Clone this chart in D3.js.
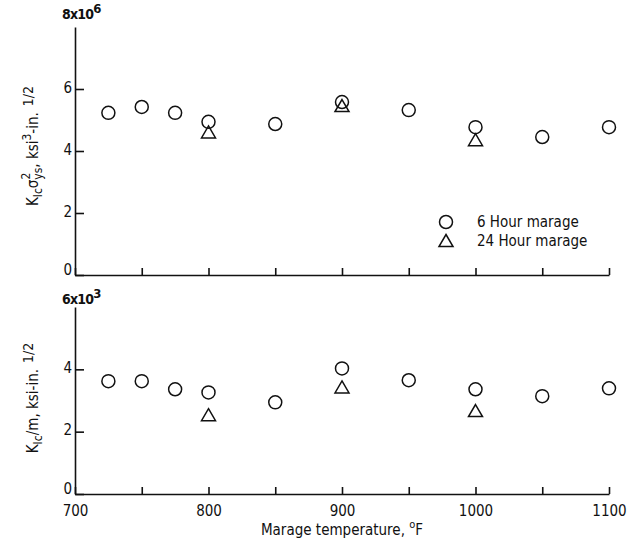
<!DOCTYPE html>
<html>
<head>
<meta charset="utf-8">
<script src="https://cdn.jsdelivr.net/npm/d3@7"></script>
<style>
  body { margin: 0; background: #fff; }
  svg text { font-family: "Liberation Sans Narrow", "DejaVu Sans Condensed", sans-serif; fill: #111; }
</style>
</head>
<body>
<svg id="chart" width="631" height="541"></svg>
<script>
// Marage temperatures, deg F
const temps6 = [725, 750, 775, 800, 850, 900, 950, 1000, 1050, 1100];
const temps24 = [800, 900, 1000];

// K_Ic * sigma_ys^2, units of 10^6
const topHour6 = [5.23, 5.42, 5.23, 4.94, 4.87, 5.58, 5.32, 4.77, 4.45, 4.77];
const topHour24 = [4.6, 5.45, 4.35];

// K_Ic / m, units of 10^3
const botHour6 = [3.62, 3.62, 3.36, 3.26, 2.94, 4.03, 3.65, 3.36, 3.14, 3.39];
const botHour24 = [2.53, 3.42, 2.66];

const xTicks = [700, 750, 800, 850, 900, 950, 1000, 1050, 1100];
const yTicksTop = [0, 2, 4, 6];
const yTicksBot = [0, 2, 4];

const svg = d3.select("#chart");
const ink = "#111";

const x = d3.scaleLinear().domain([700, 1100]).range([75, 609]);
const yTop = d3.scaleLinear().domain([0, 8]).range([275, 27]);
const yBot = d3.scaleLinear().domain([0, 6]).range([494, 307]);

function drawPanel(y, yTicks, hour6, hour24, showLabels) {
  const g = svg.append("g");

  const xAxis = d3.axisBottom(x)
      .tickValues(xTicks)
      .tickSizeInner(-7)
      .tickSizeOuter(0)
      .tickPadding(11)
      .tickFormat(d => showLabels && d % 100 === 0 ? d : "");
  g.append("g")
      .attr("transform", `translate(0,${y(0)})`)
      .call(xAxis);

  const yAxis = d3.axisLeft(y)
      .tickValues(yTicks)
      .tickSizeInner(-9)
      .tickSizeOuter(0)
      .tickPadding(3)
      .tickFormat(d3.format("d"));
  const ya = g.append("g")
      .attr("transform", `translate(${x(700)},0)`)
      .call(yAxis);
  ya.selectAll(".tick text").attr("dy", d => d === 0 ? "-0.05em" : "0.2em");

  g.selectAll(".domain, .tick line")
      .attr("stroke", ink)
      .attr("stroke-width", 1.6);
  g.selectAll(".tick text")
      .attr("font-size", 15)
      .attr("fill", ink);

  // 6 hour marage
  g.selectAll("circle.h6")
      .data(temps6.map((t, i) => [t, hour6[i]]))
      .join("circle")
        .attr("class", "h6")
        .attr("cx", d => x(d[0]))
        .attr("cy", d => y(d[1]))
        .attr("r", 6.5)
        .attr("fill", "none")
        .attr("stroke", ink)
        .attr("stroke-width", 1.5);

  // 24 hour marage
  g.selectAll("path.h24")
      .data(temps24.map((t, i) => [t, hour24[i]]))
      .join("path")
        .attr("class", "h24")
        .attr("transform", d => `translate(${x(d[0])},${y(d[1])})`)
        .attr("d", "M0,-6.5L7,5.5L-7,5.5Z")
        .attr("fill", "none")
        .attr("stroke", ink)
        .attr("stroke-width", 1.5);
  return g;
}

drawPanel(yTop, yTicksTop, topHour6, topHour24, false);
drawPanel(yBot, yTicksBot, botHour6, botHour24, true);

// top-of-axis exponent labels
function expLabel(yPos, base, exp) {
  const t = svg.append("text")
      .attr("x", x(700) - 13)
      .attr("y", yPos)
      .attr("font-size", 14)
      .attr("letter-spacing", -0.8)
      .attr("font-weight", "bold");
  t.append("tspan").text(base);
  t.append("tspan").attr("dy", -6).attr("font-size", 13).text(exp);
}
expLabel(yTop(8) - 8, "8x10", "6");
expLabel(yBot(6) - 3, "6x10", "3");

// y axis titles
const topTitle = svg.append("text")
    .attr("transform", "translate(38,146) rotate(-90)")
    .attr("text-anchor", "middle")
    .attr("font-size", 15);
topTitle.append("tspan").text("K");
topTitle.append("tspan").attr("dy", 4).attr("font-size", 12).text("Ic");
topTitle.append("tspan").attr("dy", -4).text("σ");
topTitle.append("tspan").attr("dy", -8).attr("font-size", 12).text("2");
topTitle.append("tspan").attr("dx", -7).attr("dy", 12).attr("font-size", 12).text("ys");
topTitle.append("tspan").attr("dy", -4).text(", ksi");
topTitle.append("tspan").attr("dy", -7).attr("font-size", 12).text("3");
topTitle.append("tspan").attr("dy", 7).text("-in.");
topTitle.append("tspan").attr("dx", 6).attr("dy", -5).attr("font-size", 14).text("1/2");

const botTitle = svg.append("text")
    .attr("transform", "translate(38,398) rotate(-90)")
    .attr("text-anchor", "middle")
    .attr("font-size", 15);
botTitle.append("tspan").text("K");
botTitle.append("tspan").attr("dy", 4).attr("font-size", 12).text("Ic");
botTitle.append("tspan").attr("dy", -4).text("/m, ksi-in.");
botTitle.append("tspan").attr("dx", 6).attr("dy", -5).attr("font-size", 14).text("1/2");

// x axis title
const xTitle = svg.append("text")
    .attr("x", 342)
    .attr("y", 535)
    .attr("text-anchor", "middle")
    .attr("font-size", 15);
xTitle.append("tspan").text("Marage temperature,  ");
xTitle.append("tspan").attr("dy", -7).attr("font-size", 11).text("o");
xTitle.append("tspan").attr("dy", 7).text("F");

// legend
const legend = svg.append("g").attr("transform", "translate(446,222)");
legend.append("circle")
    .attr("r", 6.5)
    .attr("fill", "none")
    .attr("stroke", ink)
    .attr("stroke-width", 1.5);
legend.append("text")
    .attr("x", 31)
    .attr("y", 5)
    .attr("font-size", 15)
    .text("6 Hour marage");
legend.append("path")
    .attr("transform", "translate(0,19)")
    .attr("d", "M0,-6.5L7,5.5L-7,5.5Z")
    .attr("fill", "none")
    .attr("stroke", ink)
    .attr("stroke-width", 1.5);
legend.append("text")
    .attr("x", 31)
    .attr("y", 24)
    .attr("font-size", 15)
    .text("24 Hour marage");
</script>
</body>
</html>
